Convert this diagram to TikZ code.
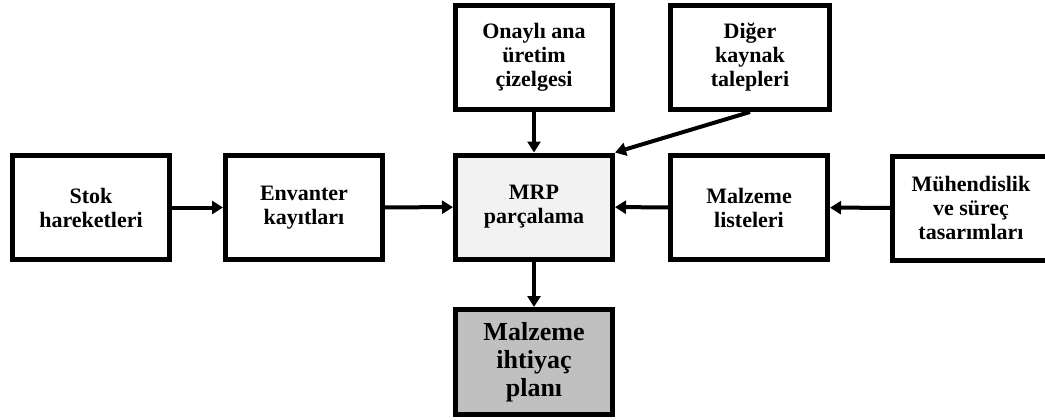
\documentclass[tikz,border=0pt]{standalone}
\usepackage{fontspec}
\setmainfont{Liberation Serif}
\usetikzlibrary{arrows.meta}
\definecolor{mrpfill}{HTML}{F2F2F2}
\definecolor{planfill}{HTML}{C0C0C0}
\begin{document}
\begin{tikzpicture}[x=1pt,y=-1pt,
  box/.style={draw, line width=5pt, minimum width=157pt, minimum height=104pt,
    align=center, inner sep=0pt, font=\bfseries\fontsize{22}{24}\selectfont},
  flow/.style={line width=4pt, -{Triangle[length=11pt,width=13pt]}}]
\clip (0,0) rectangle (1045,420);

% middle row
\node[box] (stok) at (91,207.5) {Stok\\hareketleri};
\node[box] (env)  at (304,207.5) {Envanter\\kayıtları};
\node[box, fill=mrpfill] (mrp) at (534,207) {MRP\\parçalama};
\node[box] (bom)  at (749,207.5) {Malzeme\\listeleri};
% this box runs past the right edge of the page: its frame is drawn wider
\node[box, draw=none, outer sep=0pt] (eng) at (971,208) {Mühendislik\\ve süreç\\tasarımları};
\draw[line width=5pt] (eng.north west) rectangle ([xshift=12pt]eng.south east);

% top row
\node[box] (mps)  at (534,57.5) {Onaylı ana\\üretim\\çizelgesi};
\node[box, minimum width=159pt] (other) at (750,57.5) {Diğer\\kaynak\\talepleri};

% result
\node[box, fill=planfill, minimum height=105pt,
  font=\bfseries\fontsize{26}{28}\selectfont] (plan) at (534,362) {Malzeme\\ihtiyaç\\planı};

% connectors
\draw[flow] (stok) -- (env);
\draw[flow] (env) -- (mrp);
\draw[flow] (bom) -- (mrp);
\draw[flow] (eng) -- (bom);
\draw[flow] (mps) -- (mrp);
\draw[flow] (other.south) -- (mrp.north east);
\draw[flow] (mrp) -- (plan);
\end{tikzpicture}
\end{document}
